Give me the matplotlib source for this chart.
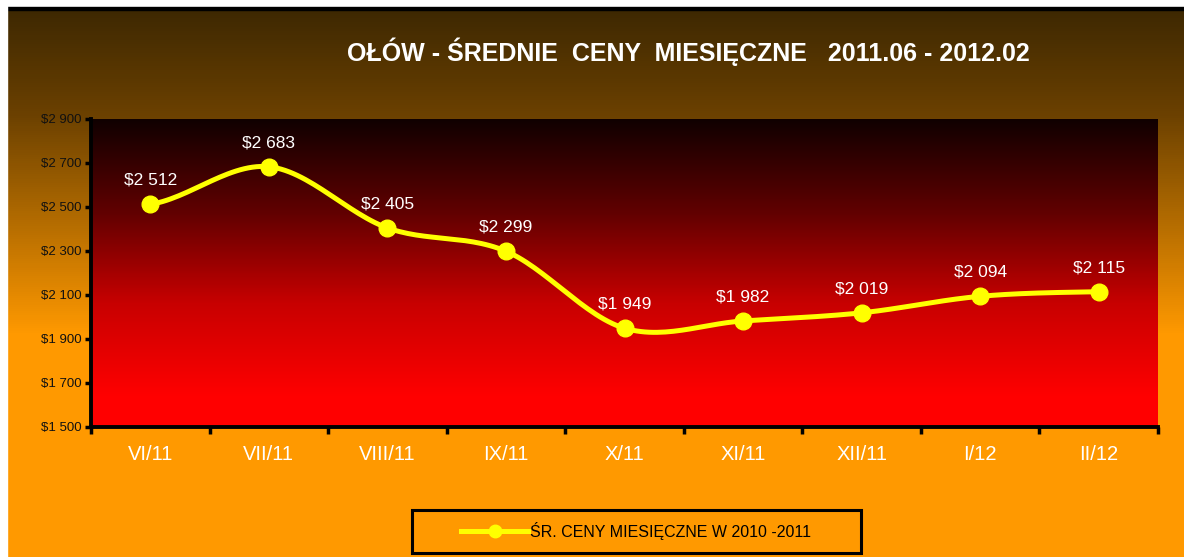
import numpy as np
import matplotlib
matplotlib.use("Agg")
import matplotlib.pyplot as plt
from matplotlib.colors import LinearSegmentedColormap
from matplotlib.lines import Line2D
from matplotlib.patches import Rectangle

plt.rcParams['font.family'] = ['Liberation Sans', 'DejaVu Sans']

# data
months = ["VI/11", "VII/11", "VIII/11", "IX/11", "X/11", "XI/11", "XII/11", "I/12", "II/12"]
prices = [2512, 2683, 2405, 2299, 1949, 1982, 2019, 2094, 2115]
y_ticks = [1500, 1700, 1900, 2100, 2300, 2500, 2700, 2900]
title = "OŁÓW - ŚREDNIE  CENY  MIESIĘCZNE   2011.06 - 2012.02"
legend_label = "ŚR. CENY MIESIĘCZNE W 2010 -2011"


def money(v):
    s = "{:,}".format(int(v)).replace(",", " ")
    return "$" + s


def smooth(xs, ys, n=30):
    # catmull-rom style smoothing like excel's smoothed line
    xs = np.asarray(xs, float)
    ys = np.asarray(ys, float)
    px = np.concatenate([[2 * xs[0] - xs[1]], xs, [2 * xs[-1] - xs[-2]]])
    py = np.concatenate([[ys[0]], ys, [ys[-1]]])
    out_x, out_y = [], []
    t = np.linspace(0, 1, n)
    for i in range(1, len(px) - 2):
        p0, p1, p2, p3 = py[i - 1], py[i], py[i + 1], py[i + 2]
        q0, q1, q2, q3 = px[i - 1], px[i], px[i + 1], px[i + 2]
        b1y = p1 + (p2 - p0) / 6
        b2y = p2 - (p3 - p1) / 6
        b1x = q1 + (q2 - q0) / 6
        b2x = q2 - (q3 - q1) / 6
        out_y.extend((1 - t) ** 3 * p1 + 3 * (1 - t) ** 2 * t * b1y + 3 * (1 - t) * t ** 2 * b2y + t ** 3 * p2)
        out_x.extend((1 - t) ** 3 * q1 + 3 * (1 - t) ** 2 * t * b1x + 3 * (1 - t) * t ** 2 * b2x + t ** 3 * q2)
    return out_x, out_y


fig = plt.figure(figsize=(11.84, 5.57), dpi=100)

# figure background gradient (dark brown -> orange)
bg = fig.add_axes([0, 0, 1, 1], zorder=-10)
bg_cmap = LinearSegmentedColormap.from_list("bg", [(0, "#3a2602"), (0.2, "#6a4000"), (0.6, "#ff9900"), (1, "#ff9900")])
grad = np.linspace(0, 1, 557).reshape(-1, 1)
bg.imshow(grad, cmap=bg_cmap, aspect="auto", extent=[0, 1, 0, 1], origin="upper")
bg.add_patch(Rectangle((0, 1 - 7 / 557), 1, 7 / 557, color="white", transform=bg.transAxes))
bg.add_patch(Rectangle((0, 1 - 10 / 557), 1, 3 / 557, color="black", transform=bg.transAxes))
bg.add_patch(Rectangle((0, 0), 7 / 1184, 1, color="white", transform=bg.transAxes))
# legend box
bg.add_patch(Rectangle((412 / 1184, 1 - 553 / 557), 449 / 1184, 43 / 557, facecolor="#ff9900",
                       edgecolor="black", lw=2.2, transform=bg.transAxes))
bg.set_axis_off()

ax = fig.add_axes([91 / 1184, 1 - 427 / 557, 1067 / 1184, 308 / 557])
x = np.arange(len(months))
ax.set_xlim(-0.5, len(months) - 0.5)
ax.set_ylim(y_ticks[0], y_ticks[-1])

plot_cmap = LinearSegmentedColormap.from_list("pa", [(0, "#100000"), (0.3, "#600000"), (0.6, "#c80000"), (0.9, "#ff0000"), (1, "#ff0000")])
ax.imshow(np.linspace(0, 1, 300).reshape(-1, 1), cmap=plot_cmap, aspect="auto",
          extent=[-0.5, len(months) - 0.5, y_ticks[0], y_ticks[-1]], origin="upper", zorder=0)

sx, sy = smooth(x, prices)
ax.plot(sx, sy, color="#ffff00", lw=3.6, zorder=3, solid_capstyle="round")
ax.plot(x, prices, "o", color="#ffff00", ms=12, zorder=4)

for xi, p in zip(x, prices):
    ax.annotate(money(p), (xi, p), xytext=(0, 12), textcoords="offset points",
                ha="center", va="bottom", color="white", fontsize=12.5, zorder=5)

ax.set_yticks(y_ticks)
ax.set_yticklabels([money(v) for v in y_ticks], fontsize=9.5, color="#111111")
ax.set_xticks(x)
ax.set_xticklabels(months, fontsize=14.5, color="white")
ax.set_xticks(np.arange(-0.5, len(months)), minor=True)
ax.tick_params(axis="x", which="major", length=0, pad=13)
ax.tick_params(axis="x", which="minor", length=5, width=2.5, color="black")
ax.tick_params(axis="y", length=4, width=2.5, color="black", pad=3)

for side in ["top", "right"]:
    ax.spines[side].set_visible(False)
for side in ["left", "bottom"]:
    ax.spines[side].set_linewidth(2.8)
    ax.spines[side].set_color("black")

fig.text(688 / 1184, 1 - 52 / 557, title, ha="center", va="center",
         color="white", fontsize=18, fontweight="bold")

handle = Line2D([], [], color="#ffff00", lw=3.6, marker="o", ms=9)
leg = fig.legend([handle], [legend_label], loc="center", bbox_to_anchor=(636 / 1184, 1 - 531 / 557),
                 frameon=False, fontsize=11.5, handlelength=4.2, handletextpad=0.1)
for t in leg.get_texts():
    t.set_color("black")

fig.savefig("out.png", dpi=100)
